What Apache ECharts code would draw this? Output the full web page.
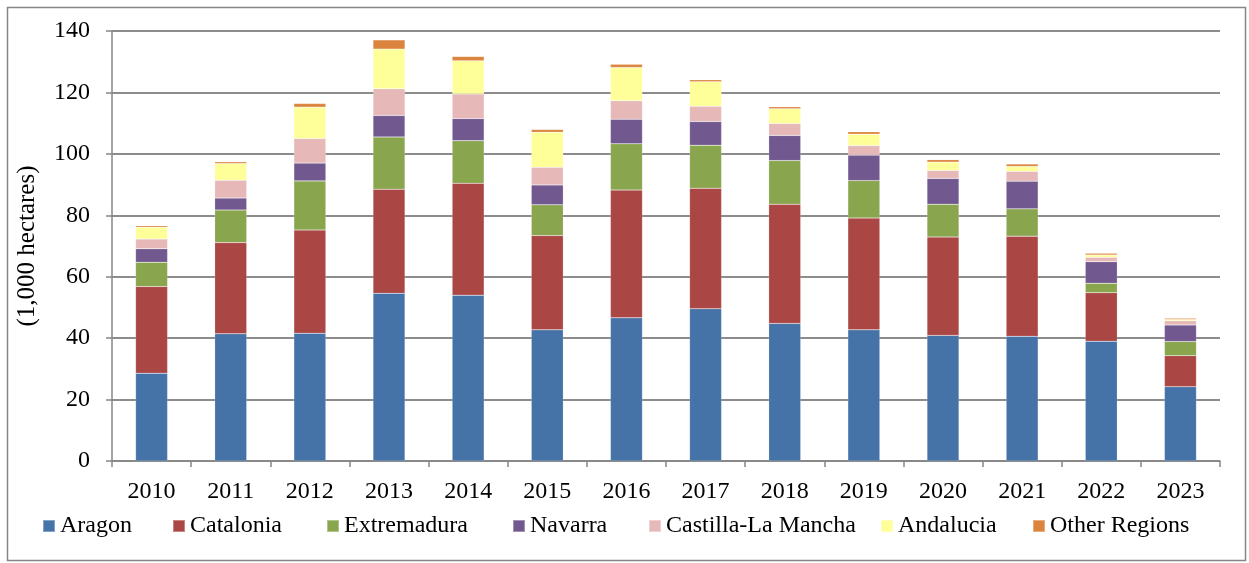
<!DOCTYPE html>
<html>
<head>
<meta charset="utf-8">
<script src="https://cdn.jsdelivr.net/npm/echarts@6/dist/echarts.min.js"></script>
<style>
html,body{margin:0;padding:0;background:#fff;}
#chart{width:1249px;height:563px;}
</style>
</head>
<body>
<div id="chart"></div>
<script>
const years = ['2010','2011','2012','2013','2014','2015','2016','2017','2018','2019','2020','2021','2022','2023'];
const aragon      = [28.6, 41.4, 41.6, 54.6, 54.0, 42.7, 46.6, 49.6, 44.8, 42.7, 40.9, 40.6, 39.0, 24.2];
const catalonia   = [28.2, 29.7, 33.6, 33.9, 36.4, 30.7, 41.6, 39.2, 38.8, 36.4, 32.0, 32.6, 15.8, 10.1];
const extremadura = [7.9, 10.6, 16.0, 17.0, 13.9, 10.0, 15.1, 14.0, 14.2, 12.2, 10.7, 8.9, 3.1, 4.6];
const navarra     = [4.4, 3.9, 5.8, 7.0, 7.2, 6.5, 8.0, 7.7, 8.2, 8.3, 8.4, 9.0, 7.0, 5.4];
const castilla    = [3.2, 5.8, 8.0, 8.7, 8.0, 5.7, 6.0, 5.0, 3.9, 3.1, 2.6, 3.2, 1.4, 1.4];
const andalucia   = [3.8, 5.5, 10.2, 12.9, 10.8, 11.4, 10.8, 8.0, 4.8, 3.7, 2.7, 1.6, 0.8, 0.4];
const other       = [0.5, 0.5, 1.2, 3.0, 1.4, 0.9, 1.1, 0.6, 0.6, 0.8, 0.8, 0.8, 0.5, 0.4];
const yTicks = [0, 20, 40, 60, 80, 100, 120, 140];
const regionNames = ['Aragon', 'Catalonia', 'Extremadura', 'Navarra', 'Castilla-La Mancha', 'Andalucia', 'Other Regions'];

const seriesData = [aragon, catalonia, extremadura, navarra, castilla, andalucia, other];
const colors = ['#4572A7', '#AA4643', '#89A54E', '#71588F', '#E6B9B8', '#FFFF99', '#DB843D'];
const legendLeft = [42, 172, 326, 512, 648, 880, 1032];

const font = 'Liberation Serif, Times New Roman, serif';
const chart = echarts.init(document.getElementById('chart'), null, {renderer: 'canvas'});
chart.setOption({
  animation: false,
  backgroundColor: '#fff',
  graphic: [{
    type: 'rect', left: 5, top: 5, z: -1,
    shape: {width: 1238, height: 553},
    style: {fill: 'none', stroke: '#868686', lineWidth: 1.5}
  }],
  grid: {left: 112, right: 29, top: 31, bottom: 102, containLabel: false},
  legend: regionNames.map((n, i) => ({
    left: legendLeft[i], top: 514, padding: 0,
    itemWidth: 12, itemHeight: 12,
    icon: 'rect',
    textStyle: {fontFamily: font, fontSize: 24, color: '#000'},
    data: [n]
  })),
  xAxis: {
    type: 'category',
    data: years,
    boundaryGap: true,
    axisLine: {lineStyle: {color: '#868686', width: 1.5}},
    axisTick: {show: true, alignWithLabel: false, length: 6, lineStyle: {color: '#868686', width: 1.5}},
    axisLabel: {fontFamily: font, fontSize: 24, color: '#000', margin: 19}
  },
  yAxis: {
    type: 'value',
    min: yTicks[0], max: yTicks[yTicks.length - 1], interval: 20,
    name: '(1,000 hectares)',
    nameLocation: 'middle',
    nameGap: 72,
    nameRotate: 90,
    nameTextStyle: {fontFamily: font, fontSize: 25, color: '#000'},
    axisLine: {show: true, lineStyle: {color: '#868686', width: 1.5}},
    axisTick: {show: true, inside: false, length: 6, lineStyle: {color: '#868686', width: 1.5}},
    axisLabel: {fontFamily: font, fontSize: 24, color: '#000', margin: 22},
    splitLine: {lineStyle: {color: '#8c8c8c', width: 2}}
  },
  series: regionNames.map((n, i) => ({
    name: n,
    type: 'bar',
    stack: 'total',
    data: seriesData[i],
    barWidth: 32,
    itemStyle: {color: colors[i], borderColor: 'rgba(255,255,255,0.35)', borderWidth: 0.5}
  }))
});
</script>
</body>
</html>
